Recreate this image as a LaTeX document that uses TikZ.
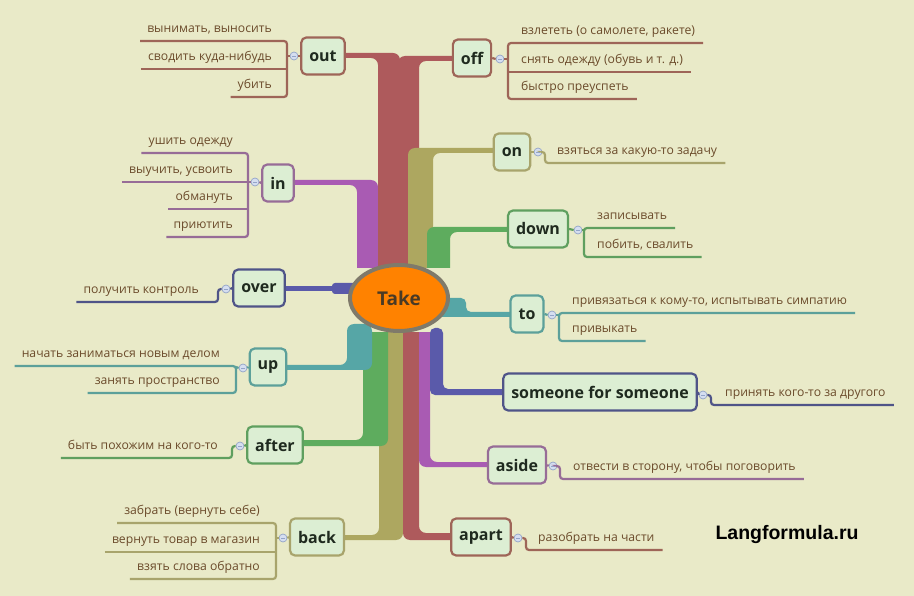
\documentclass[tikz,border=0pt]{standalone}
\usepackage{fontspec}
\setmainfont{Open Sans}
\newfontfamily\wmfont{Liberation Sans}
\usetikzlibrary{shapes.geometric}
\definecolor{bg}{HTML}{E9EAC8}
\definecolor{bRed}{HTML}{AE5A5C}
\definecolor{bPur}{HTML}{A95BB3}
\definecolor{bBlu}{HTML}{5A5AAA}
\definecolor{bOli}{HTML}{ADA760}
\definecolor{bGrn}{HTML}{5EAC5E}
\definecolor{bTea}{HTML}{56A6A6}
\definecolor{lRed}{HTML}{9E6558}
\definecolor{lPur}{HTML}{976C97}
\definecolor{lBlu}{HTML}{4F5488}
\definecolor{lOli}{HTML}{A8A46C}
\definecolor{lGrn}{HTML}{5F9F5F}
\definecolor{lTea}{HTML}{5CA09A}
\definecolor{boxF}{HTML}{DCEED3}
\definecolor{txt}{HTML}{6B4B2B}
\definecolor{lbl}{HTML}{1F2A1F}
\definecolor{miniF}{HTML}{D5DEF0}
\definecolor{miniD}{HTML}{93A4C8}
\definecolor{ellD}{HTML}{7F7A6A}
\definecolor{ellF}{HTML}{FF8200}
\definecolor{takeT}{HTML}{4A3A25}
\begin{document}
\begin{tikzpicture}[x=1pt,y=-1pt,
  kw/.style={draw, rounded corners=5pt, line width=2.2pt, fill=boxF, text=lbl,
    font=\fontsize{16}{18}\selectfont\bfseries, minimum height=37pt, inner xsep=8pt, inner ysep=0pt},
  mini/.style={circle, draw=miniD, fill=miniF, line width=0.7pt, minimum size=8pt, inner sep=0pt,
    path picture={\draw[miniD, line width=0.8pt] ([xshift=-2pt]path picture bounding box.center) -- ([xshift=2pt]path picture bounding box.center);}},
  cl/.style={anchor=south east, font=\fontsize{12.2}{14}\selectfont, text=txt, inner xsep=0pt,
    inner ysep=5.5pt, text height=9pt, text depth=3pt},
  cr/.style={cl, anchor=south west},
  ul/.style={line width=2.2pt, rounded corners=3pt},
  bar/.style={rounded corners=7pt}
]
\fill[bg] (0,0) rectangle (914,596);
\useasboundingbox (0,0) rectangle (914,596);

% ---- upper trunks
\begin{scope}
\clip (0,0) rectangle (914,268);
\fill[bPur, bar] (283,180) -- (378,180) -- (378,300) -- (357,300) -- (357,185) -- (283,185) -- cycle;
\fill[bRed, bar] (333,53) -- (400,53) -- (400,300) -- (378,300) -- (378,58) -- (333,58) -- cycle;
\fill[bRed, bar] (464,56) -- (464,61) -- (419,61) -- (419,300) -- (398,300) -- (398,56) -- cycle;
\fill[bOli, bar] (505,148) -- (408,148) -- (408,300) -- (433,300) -- (433,153) -- (505,153) -- cycle;
\fill[bGrn, bar] (519,227) -- (427,227) -- (427,300) -- (450,300) -- (450,232) -- (519,232) -- cycle;
\end{scope}
% ---- lower trunks
\begin{scope}
\clip (0,333) rectangle (914,596);
\fill[bOli, bar] (333,535) -- (379,535) -- (379,300) -- (403,300) -- (403,540) -- (333,540) -- cycle;
\fill[bRed, bar] (463,533) -- (419,533) -- (419,300) -- (403,300) -- (403,540) -- (463,540) -- cycle;
\fill[bPur, bar] (499,462) -- (430,462) -- (430,300) -- (419,300) -- (419,467) -- (499,467) -- cycle;
\fill[bGrn, bar] (291,440) -- (363,440) -- (363,300) -- (388,300) -- (388,446) -- (291,446) -- cycle;
\end{scope}
\fill[bTea, bar] (276,365) -- (347,365) -- (347,324) -- (372,324) -- (372,370) -- (276,370) -- cycle;
\fill[bBlu, rounded corners=5pt] (514,389) -- (443,389) -- (443,328) -- (430,328) -- (430,395) -- (514,395) -- cycle;
\fill[bBlu] (273,286) rectangle (345,291);
\fill[bBlu, rounded corners=3pt] (332,283) rectangle (365,294);
\fill[bTea, rounded corners=5pt] (430,298) -- (466,298) -- (466,312) -- (521,312) -- (521,317) -- (430,317) -- cycle;

% ---- central topic
\node[ellipse, draw=ellD, line width=4pt, fill=ellF, minimum width=98pt, minimum height=66pt,
  inner sep=0pt, font=\fontsize{19}{22}\selectfont\bfseries, text=takeT] (take) at (399,298) {Take};

% ---- keyword boxes
\node[kw, draw=lRed] (kOut) at (323,56) {out};
\node[kw, draw=lRed] (kOff) at (472,58) {off};
\node[kw, draw=lPur] (kIn) at (278,183) {in};
\node[kw, draw=lBlu] (kOver) at (259,288) {over};
\node[kw, draw=lTea] (kUp) at (268,367) {up};
\node[kw, draw=lGrn] (kAfter) at (275,445) {after};
\node[kw, draw=lOli] (kBack) at (317,537) {back};
\node[kw, draw=lOli] (kOn) at (512,152) {on};
\node[kw, draw=lGrn] (kDown) at (538,229) {down};
\node[kw, draw=lTea] (kTo) at (527,314) {to};
\node[kw, draw=lBlu] (kSom) at (600,392) {someone for someone};
\node[kw, draw=lPur] (kAside) at (517,465) {aside};
\node[kw, draw=lRed] (kApart) at (481,537) {apart};

% ---- collapse markers
\node[mini] (mOut) at (294,56) {};
\node[mini] (mOff) at (500,59) {};
\node[mini] (mIn) at (255,182) {};
\node[mini] (mOver) at (226,289) {};
\node[mini] (mUp) at (243,368) {};
\node[mini] (mAfter) at (240,446) {};
\node[mini] (mBack) at (283,538) {};
\node[mini] (mOn) at (538,152) {};
\node[mini] (mDown) at (578,230) {};
\node[mini] (mTo) at (552,315) {};
\node[mini] (mSom) at (703,395) {};
\node[mini] (mAside) at (553,466) {};
\node[mini] (mApart) at (518,538) {};

% ---- box to marker
\draw[ul, lRed] (kOut.west) -- (mOut.east);
\draw[ul, lRed] (kOff.east) -- (mOff.west);
\draw[ul, lPur] (kIn.west) -- (mIn.east);
\draw[ul, lBlu] (kOver.west) -- (mOver.east);
\draw[ul, lTea] (kUp.west) -- (mUp.east);
\draw[ul, lGrn] (kAfter.west) -- (mAfter.east);
\draw[ul, lOli] (kBack.west) -- (mBack.east);
\draw[ul, lOli] (kOn.east) -- (mOn.west);
\draw[ul, lGrn] (kDown.east) -- (mDown.west);
\draw[ul, lTea] (kTo.east) -- (mTo.west);
\draw[ul, lBlu] (kSom.east) -- (mSom.west);
\draw[ul, lPur] (kAside.east) -- (mAside.west);
\draw[ul, lRed] (kApart.east) -- (mApart.west);

% ---- out
\node[cl] (o1) at (272,41) {вынимать, выносить};
\node[cl] (o2) at (272,69) {сводить куда-нибудь};
\node[cl] (o3) at (272,97) {убить};
\draw[ul, lRed] ([xshift=-7pt]o1.south west) -- (287,41) -- (287,97) -- ([xshift=-7pt]o3.south west);
\draw[ul, lRed] ([xshift=-7pt]o2.south west) -- (287,69);
\draw[ul, lRed] (mOut.west) -- (287,56);
% ---- off
\node[cr] (f1) at (521,43) {взлететь (о самолете, ракете)};
\node[cr] (f2) at (521,72) {снять одежду (обувь и т. д.)};
\node[cr] (f3) at (521,99) {быстро преуспеть};
\draw[ul, lRed] ([xshift=8pt]f1.south east) -- (508,43) -- (508,99) -- ([xshift=8pt]f3.south east);
\draw[ul, lRed] (508,72) -- ([xshift=8pt]f2.south east);
\draw[ul, lRed] (mOff.east) -- (508,59);
% ---- in
\node[cl] (i1) at (233,153) {ушить одежду};
\node[cl] (i2) at (233,182) {выучить, усвоить};
\node[cl] (i3) at (233,209) {обмануть};
\node[cl] (i4) at (233,237) {приютить};
\draw[ul, lPur] ([xshift=-7pt]i1.south west) -- (248,153) -- (248,237) -- ([xshift=-7pt]i4.south west);
\draw[ul, lPur] ([xshift=-7pt]i2.south west) -- (mIn.west);
\draw[ul, lPur] ([xshift=-7pt]i3.south west) -- (248,209);
% ---- over
\node[cl] (v1) at (199,302) {получить контроль};
\draw[ul, lBlu] (mOver.west) -- (218,289) -- (218,302) -- ([xshift=-7pt]v1.south west);
% ---- up
\node[cl] (u1) at (220,366) {начать заниматься новым делом};
\node[cl] (u2) at (220,393) {занять пространство};
\draw[ul, lTea] ([xshift=-7pt]u1.south west) -- (236,366) -- (236,393) -- ([xshift=-7pt]u2.south west);
\draw[ul, lTea] (mUp.west) -- (236,367);
% ---- after
\node[cl] (a1) at (218,458) {быть похожим на кого-то};
\draw[ul, lGrn] (mAfter.west) -- (232,446) -- (232,458) -- ([xshift=-7pt]a1.south west);
% ---- back
\node[cl] (b1) at (260,523) {забрать (вернуть себе)};
\node[cl] (b2) at (260,552) {вернуть товар в магазин};
\node[cl] (b3) at (260,579) {взять слова обратно};
\draw[ul, lOli] ([xshift=-7pt]b1.south west) -- (276,523) -- (276,579) -- ([xshift=-7pt]b3.south west);
\draw[ul, lOli] ([xshift=-7pt]b2.south west) -- (276,552);
\draw[ul, lOli] (mBack.west) -- (276,538);
% ---- on
\node[cr] (n1) at (557,163) {взяться за какую-то задачу};
\draw[ul, lOli] (mOn.east) -- (545,152) -- (545,163) -- ([xshift=8pt]n1.south east);
% ---- down
\node[cr] (d1) at (597,228) {записывать};
\node[cr] (d2) at (597,257) {побить, свалить};
\draw[ul, lGrn] ([xshift=8pt]d1.south east) -- (584,228) -- (584,257) -- ([xshift=8pt]d2.south east);
\draw[ul, lGrn] (mDown.east) -- (584,230);
% ---- to
\node[cr] (t1) at (572,313) {привязаться к кому-то, испытывать симпатию};
\node[cr] (t2) at (572,341) {привыкать};
\draw[ul, lTea] ([xshift=8pt]t1.south east) -- (559,313) -- (559,341) -- ([xshift=8pt]t2.south east);
\draw[ul, lTea] (mTo.east) -- (559,315);
% ---- someone
\node[cr] (s1) at (725,405) {принять кого-то за другого};
\draw[ul, lBlu] (mSom.east) -- (711,395) -- (711,405) -- ([xshift=8pt]s1.south east);
% ---- aside
\node[cr] (e1) at (573,479) {отвести в сторону, чтобы поговорить};
\draw[ul, lPur] (mAside.east) -- (560,466) -- (560,479) -- ([xshift=8pt]e1.south east);
% ---- apart
\node[cr] (p1) at (538,550) {разобрать на части};
\draw[ul, lRed] (mApart.east) -- (526,538) -- (526,550) -- ([xshift=8pt]p1.south east);

% ---- watermark
\node[font=\wmfont\bfseries\fontsize{19.5}{22}\selectfont, text=black] (wm) at (787,535) {Langformula.ru};
\end{tikzpicture}
\end{document}
